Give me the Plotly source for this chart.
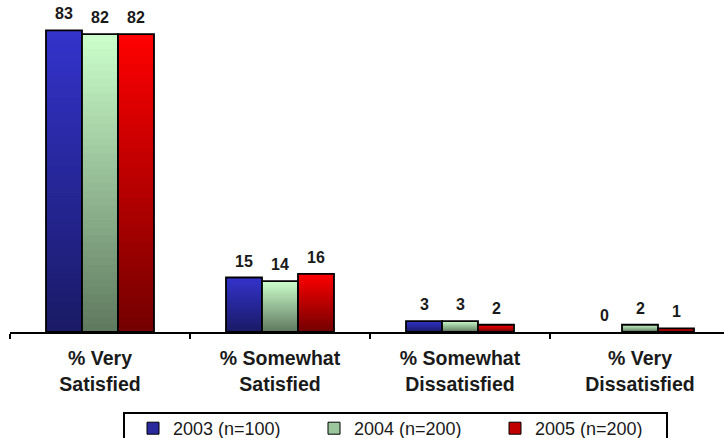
import plotly.graph_objects as go

# Satisfaction ratings by survey year (percent of respondents)
categories = ["% Very<br>Satisfied", "% Somewhat<br>Satisfied",
              "% Somewhat<br>Dissatisfied", "% Very<br>Dissatisfied"]
series_names = ["2003 (n=100)", "2004 (n=200)", "2005 (n=200)"]
values_2003 = [83, 15, 3, 0]
values_2004 = [82, 14, 3, 2]
values_2005 = [82, 16, 2, 1]
series_values = [values_2003, values_2004, values_2005]

# Vertical gradient for each series: (top colour, bottom colour)
gradients = [((51, 51, 204), (26, 26, 102)),
             ((204, 255, 204), (94, 120, 94)),
             ((255, 0, 0), (115, 0, 0))]
legend_colors = ["#2a2a9e", "#9cc79c", "#c00000"]

W, H = 724, 438
M_L, M_R, M_T, M_B = 10, 0, 5, 106
N_STEPS = 40
BARGAP = 0.4
CAT_PX = 180.0


def mix(c0, c1, t):
    return "rgb({},{},{})".format(*[round(a + (b - a) * t) for a, b in zip(c0, c1)])


fig = go.Figure()
bar_px = CAT_PX * (1 - BARGAP) / len(series_values)
annotations = []

for s, (name, vals) in enumerate(zip(series_names, series_values)):
    top, bottom = gradients[s]
    # Overlapping bars of decreasing height give each bar a top-to-bottom gradient
    for k in range(N_STEPS):
        frac = (N_STEPS - k) / N_STEPS
        fig.add_trace(go.Bar(
            x=categories, y=[v * frac for v in vals],
            offsetgroup=str(s), marker=dict(color=mix(top, bottom, (k + 0.5) / N_STEPS),
                                            line=dict(width=0)),
            showlegend=False, hoverinfo="skip"))
    # Outline (none for empty bars)
    fig.add_trace(go.Bar(
        x=categories, y=vals, offsetgroup=str(s),
        marker=dict(color="rgba(0,0,0,0)", line=dict(
            color="black", width=[1.8 if v > 0 else 0 for v in vals])),
        showlegend=False, hoverinfo="skip"))
    # Legend entry
    fig.add_trace(go.Bar(
        x=categories[:1], y=[None], offsetgroup=str(s), name=name,
        marker=dict(color=legend_colors[s], line=dict(color="black", width=1))))
    # Value labels above each bar
    for cat, v in zip(categories, vals):
        annotations.append(dict(
            x=cat, y=v, xref="x", yref="y", text=str(v), showarrow=False,
            xshift=(s - (len(series_values) - 1) / 2) * bar_px,
            yanchor="bottom", yshift=6,
            font=dict(family="Liberation Sans", size=16, color="#1a1a1a", weight="bold")))

plot_w = W - M_L - M_R
plot_h = H - M_T - M_B
x_hi = -0.5 + plot_w / CAT_PX


def px_to_paper_x(px):
    return (px - M_L) / plot_w


def px_to_paper_y(py):
    return (H - M_B - py) / plot_h


fig.update_layout(
    width=W, height=H,
    margin=dict(l=M_L, r=M_R, t=M_T, b=M_B, pad=0),
    paper_bgcolor="white", plot_bgcolor="white",
    barmode="group", bargap=BARGAP, bargroupgap=0,
    showlegend=True,
    legend=dict(orientation="h", xref="container", yref="container",
                x=133 / W, y=(H - 410) / H, xanchor="left", yanchor="top",
                font=dict(family="Liberation Sans", size=18, color="#1a1a1a"),
                bgcolor="rgba(0,0,0,0)", borderwidth=0,
                entrywidth=136, entrywidthmode="pixels"),
    xaxis=dict(range=[-0.5, x_hi], showline=True, linecolor="black", linewidth=2,
               ticks="outside", tickson="boundaries", ticklen=5, tickwidth=2,
               tickcolor="black", showgrid=False, zeroline=False,
               ticklabelstandoff=8,
               tickfont=dict(family="Liberation Sans", size=19.5, color="#1a1a1a",
                             weight="bold")),
    yaxis=dict(range=[0, 90], visible=False, showgrid=False, zeroline=False),
    annotations=annotations,
    shapes=[dict(type="rect", xref="paper", yref="paper",
                 x0=px_to_paper_x(124), x1=px_to_paper_x(667),
                 y0=px_to_paper_y(413), y1=px_to_paper_y(460),
                 line=dict(color="black", width=2), fillcolor="rgba(0,0,0,0)",
                 layer="above")],
)

fig.write_html("out.html")
